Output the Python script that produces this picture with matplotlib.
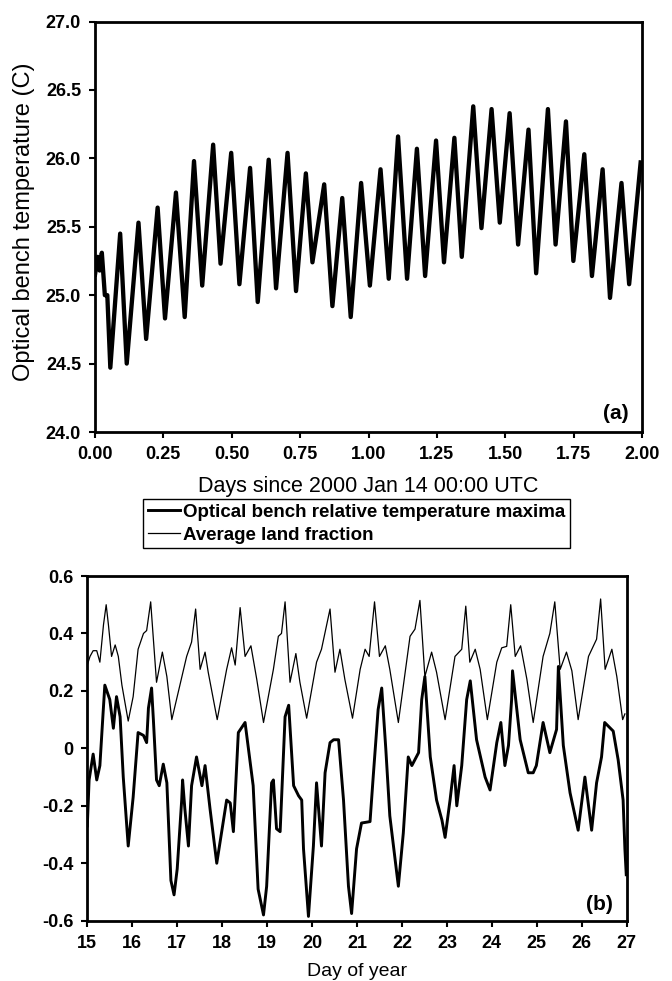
import matplotlib
matplotlib.use("Agg")
from matplotlib import pyplot as plt
from matplotlib.lines import Line2D
from matplotlib.ticker import FormatStrFormatter, FuncFormatter

plt.rcParams['font.family'] = ['Liberation Sans', 'DejaVu Sans']
plt.rcParams['axes.unicode_minus'] = False

# panel (a): optical bench temperature, peaks and troughs
bench_days = [0.0, 0.010, 0.017, 0.025, 0.036, 0.045, 0.056, 0.092, 0.116, 0.159, 0.187,
              0.229, 0.256, 0.296, 0.328, 0.362, 0.392, 0.432, 0.459, 0.498, 0.528,
              0.567, 0.595, 0.635, 0.662, 0.704, 0.735, 0.771, 0.795, 0.838, 0.868,
              0.904, 0.935, 0.973, 1.005, 1.044, 1.074, 1.108, 1.141, 1.177, 1.207,
              1.247, 1.276, 1.314, 1.341, 1.383, 1.413, 1.450, 1.480, 1.516, 1.547,
              1.585, 1.613, 1.656, 1.684, 1.722, 1.749, 1.789, 1.817, 1.856, 1.883,
              1.925, 1.953, 1.995]
bench_temp = [25.15, 25.28, 25.18, 25.31, 25.00, 25.00, 24.47, 25.45, 24.50, 25.53, 24.68,
              25.64, 24.83, 25.75, 24.84, 25.98, 25.07, 26.10, 25.23, 26.04, 25.08,
              25.93, 24.95, 25.99, 25.05, 26.04, 25.03, 25.89, 25.24, 25.81, 24.92,
              25.71, 24.84, 25.82, 25.07, 25.92, 25.12, 26.16, 25.12, 26.07, 25.14,
              26.13, 25.24, 26.15, 25.28, 26.38, 25.49, 26.36, 25.53, 26.33, 25.37,
              26.21, 25.16, 26.36, 25.37, 26.27, 25.25, 26.03, 25.14, 25.92, 24.98,
              25.82, 25.08, 25.97]
top_xticks = [0.0, 0.25, 0.5, 0.75, 1.0, 1.25, 1.5, 1.75, 2.0]
top_yticks = [24.0, 24.5, 25.0, 25.5, 26.0, 26.5, 27.0]

# panel (b): average land fraction (thin line)
land_day = [15.00, 15.06, 15.13, 15.21, 15.28, 15.36, 15.42, 15.47, 15.54, 15.62, 15.69,
            15.77, 15.91, 16.02, 16.13, 16.25, 16.32, 16.41, 16.47, 16.54, 16.67, 16.77,
            16.88, 17.06, 17.21, 17.32, 17.41, 17.51, 17.62, 17.69, 17.89, 18.10, 18.21,
            18.29, 18.40, 18.51, 18.64, 18.77, 18.92, 19.14, 19.25, 19.32, 19.40, 19.51,
            19.64, 19.73, 19.88, 20.10, 20.21, 20.40, 20.51, 20.62, 20.73, 20.90, 21.07,
            21.18, 21.27, 21.39, 21.50, 21.63, 21.73, 21.92, 22.18, 22.29, 22.40, 22.51,
            22.66, 22.77, 22.96, 23.18, 23.33, 23.42, 23.51, 23.63, 23.74, 23.90, 24.11,
            24.22, 24.33, 24.42, 24.52, 24.64, 24.78, 24.92, 25.14, 25.29, 25.40, 25.52,
            25.66, 25.78, 25.92, 26.15, 26.33, 26.42, 26.52, 26.67, 26.78, 26.91, 26.96]
land_frac = [0.29, 0.32, 0.34, 0.34, 0.30, 0.43, 0.50, 0.43, 0.32, 0.36, 0.32,
             0.22, 0.095, 0.18, 0.345, 0.40, 0.41, 0.51, 0.38, 0.23, 0.335, 0.25,
             0.10, 0.22, 0.32, 0.37, 0.485, 0.275, 0.335, 0.265, 0.10, 0.275, 0.35,
             0.29, 0.49, 0.32, 0.357, 0.24, 0.09, 0.275, 0.39, 0.40, 0.51, 0.23,
             0.33, 0.23, 0.105, 0.30, 0.345, 0.485, 0.265, 0.345, 0.24, 0.105, 0.275,
             0.345, 0.32, 0.51, 0.32, 0.357, 0.275, 0.09, 0.39, 0.415, 0.515, 0.25,
             0.335, 0.265, 0.10, 0.32, 0.345, 0.495, 0.30, 0.345, 0.275, 0.10, 0.30,
             0.35, 0.355, 0.50, 0.32, 0.357, 0.24, 0.09, 0.32, 0.40, 0.51, 0.275,
             0.335, 0.27, 0.10, 0.32, 0.38, 0.52, 0.275, 0.345, 0.25, 0.10, 0.12]

# panel (b): optical bench relative temperature maxima (thick line)
tmax_day = [15.00, 15.04, 15.13, 15.21, 15.28, 15.35, 15.39, 15.50, 15.58, 15.65, 15.73,
            15.80, 15.91, 16.02, 16.13, 16.25, 16.32, 16.36, 16.43, 16.47, 16.54, 16.60,
            16.69, 16.77, 16.86, 16.93, 17.00, 17.10, 17.12, 17.17, 17.25, 17.32, 17.43,
            17.55, 17.62, 17.73, 17.88, 18.01, 18.10, 18.18, 18.25, 18.36, 18.51, 18.69,
            18.80, 18.92, 18.99, 19.10, 19.14, 19.21, 19.29, 19.40, 19.48, 19.59, 19.70,
            19.77, 19.81, 19.92, 20.03, 20.10, 20.21, 20.29, 20.40, 20.48, 20.59, 20.70,
            20.81, 20.88, 20.99, 21.10, 21.29, 21.36, 21.47, 21.55, 21.64, 21.73, 21.92,
            22.03, 22.14, 22.22, 22.37, 22.44, 22.51, 22.63, 22.77, 22.89, 22.96, 23.07,
            23.16, 23.22, 23.33, 23.44, 23.52, 23.66, 23.85, 23.96, 24.11, 24.20, 24.29,
            24.37, 24.44, 24.46, 24.63, 24.81, 24.92, 24.99, 25.14, 25.29, 25.44, 25.48,
            25.59, 25.74, 25.92, 26.07, 26.22, 26.33, 26.44, 26.51, 26.70, 26.81, 26.92,
            26.96, 26.99]
tmax_rel = [-0.27, -0.11, -0.02, -0.11, -0.06, 0.12, 0.22, 0.17, 0.07, 0.18, 0.11,
            -0.10, -0.34, -0.17, 0.055, 0.045, 0.02, 0.14, 0.21, 0.10, -0.11, -0.13,
            -0.055, -0.12, -0.46, -0.51, -0.42, -0.18, -0.11, -0.21, -0.34, -0.13, -0.03,
            -0.13, -0.06, -0.21, -0.40, -0.27, -0.18, -0.19, -0.29, 0.055, 0.09, -0.13,
            -0.49, -0.58, -0.48, -0.12, -0.11, -0.28, -0.29, 0.11, 0.15, -0.13, -0.165,
            -0.18, -0.35, -0.585, -0.34, -0.12, -0.34, -0.085, 0.02, 0.03, 0.03, -0.18,
            -0.48, -0.575, -0.35, -0.26, -0.255, -0.10, 0.135, 0.21, 0.0, -0.235, -0.48,
            -0.295, -0.03, -0.06, -0.015, 0.17, 0.25, -0.03, -0.18, -0.25, -0.31, -0.18,
            -0.06, -0.20, -0.06, 0.17, 0.235, 0.03, -0.10, -0.145, 0.02, 0.09, -0.06,
            0.01, 0.17, 0.27, 0.03, -0.085, -0.085, -0.06, 0.09, -0.015, 0.066, 0.285,
            0.01, -0.155, -0.285, -0.10, -0.285, -0.12, -0.03, 0.09, 0.06, -0.04, -0.18,
            -0.35, -0.44]
bot_xticks = list(range(15, 28))
bot_yticks = [-0.6, -0.4, -0.2, 0.0, 0.2, 0.4, 0.6]

fig = plt.figure(figsize=(6.72, 9.81), dpi=100)

# --- panel (a)
ax1 = fig.add_axes([95 / 672, 1 - 432 / 981, 547 / 672, 410.5 / 981])
ax1.plot(bench_days, bench_temp, color='black', lw=3.1, solid_joinstyle='round')
ax1.set_xlim(0, 2)
ax1.set_ylim(24, 27)
ax1.set_xticks(top_xticks)
ax1.set_yticks(top_yticks)
ax1.xaxis.set_major_formatter(FormatStrFormatter('%.2f'))
ax1.yaxis.set_major_formatter(FormatStrFormatter('%.1f'))
ax1.tick_params(direction='out', length=4, width=1.5, labelsize=13, pad=6)
for lab in ax1.get_xticklabels() + ax1.get_yticklabels():
    lab.set_fontweight('bold')
for s in ax1.spines.values():
    s.set_linewidth(2)
ax1.set_xlabel('Days since 2000 Jan 14 00:00 UTC', fontsize=15.5)
ax1.xaxis.set_label_coords(0.5, -0.106)
fig.text(24 / 672, 1 - 222 / 981, 'Optical bench temperature (C)', rotation=90,
         ha='center', va='center', fontsize=17)
ax1.text(0.975, 0.022, '(a)', transform=ax1.transAxes, ha='right', va='bottom',
         fontsize=15, fontweight='bold')

# --- panel (b)
ax2 = fig.add_axes([87.3 / 672, 1 - 920.7 / 981, 539.4 / 672, 344.7 / 981])
ax2.plot(tmax_day, tmax_rel, color='black', lw=2.1)
ax2.plot(land_day, land_frac, color='black', lw=0.9)
ax2.set_xlim(15, 27)
ax2.set_ylim(-0.6, 0.6)
ax2.set_xticks(bot_xticks)
ax2.set_yticks(bot_yticks)
ax2.yaxis.set_major_formatter(FuncFormatter(lambda v, p: '%g' % round(v, 1)))
ax2.tick_params(direction='out', length=4, width=1.5, labelsize=13, pad=6)
for lab in ax2.get_xticklabels() + ax2.get_yticklabels():
    lab.set_fontweight('bold')
for s in ax2.spines.values():
    s.set_linewidth(2)
ax2.set_xlabel('Day of year', fontsize=14)
ax2.xaxis.set_label_coords(0.5, -0.122)
ax2.text(0.975, 0.018, '(b)', transform=ax2.transAxes, ha='right', va='bottom',
         fontsize=15, fontweight='bold')

# legend between the panels
handles = [Line2D([], [], color='black', lw=2.1), Line2D([], [], color='black', lw=0.9)]
labels = ['Optical bench relative temperature maxima', 'Average land fraction']
leg = fig.legend(handles, labels, loc='upper left', bbox_to_anchor=(143 / 672, 1 - 499 / 981),
                 borderaxespad=0, fancybox=False, framealpha=1, edgecolor='black',
                 borderpad=0.25, labelspacing=0.3, handlelength=1.7, handletextpad=0.2,
                 prop={'size': 13.5, 'weight': 'bold'})
leg.get_frame().set_linewidth(1.0)

fig.savefig('out.png', dpi=100)
